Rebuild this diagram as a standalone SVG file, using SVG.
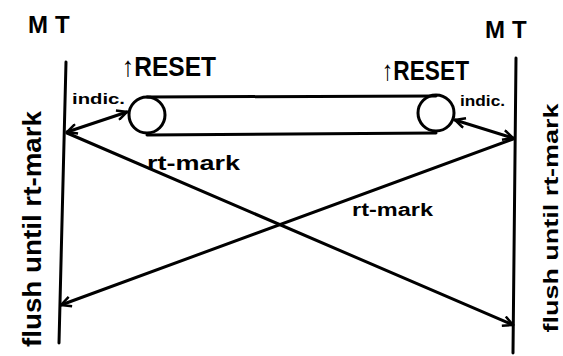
<svg xmlns="http://www.w3.org/2000/svg" width="563" height="356" viewBox="0 0 563 356">
<defs>
<style>
.ln{stroke:#000;stroke-width:3;fill:none;stroke-linecap:round}
.t{font-family:"Liberation Sans",Arial,sans-serif;font-weight:bold;fill:#000}
</style>
<marker id="ah" viewBox="0 0 12 12" refX="11" refY="6" markerWidth="12" markerHeight="12" markerUnits="userSpaceOnUse" orient="auto-start-reverse">
<path d="M1,1 L11,6 L1,11" fill="none" stroke="#000" stroke-width="2.5" stroke-linejoin="miter"/>
</marker>
</defs>
<rect width="563" height="356" fill="#fff"/>
<g id="mt-left">
<line class="ln" x1="66" y1="62" x2="59" y2="343"/>
<text class="t" x="28" y="33" font-size="24" letter-spacing="7">MT</text>
<text class="t" transform="translate(41,229) rotate(-90)" text-anchor="middle" font-size="26" textLength="236" lengthAdjust="spacingAndGlyphs">flush until rt-mark</text>
</g>
<g id="mt-right">
<line class="ln" x1="516" y1="58" x2="513" y2="353"/>
<text class="t" x="485" y="38" font-size="24" letter-spacing="7">MT</text>
<text class="t" transform="translate(558,218) rotate(-90)" text-anchor="middle" font-size="21" textLength="229" lengthAdjust="spacingAndGlyphs">flush until rt-mark</text>
</g>
<g id="tube">
<line class="ln" x1="147" y1="97" x2="436" y2="96"/>
<line class="ln" x1="147" y1="135" x2="436" y2="133"/>
<circle class="ln" cx="147" cy="115" r="18" fill="#fff"/>
<circle class="ln" cx="436" cy="113" r="18" fill="#fff"/>
<text class="t" x="122" y="76" font-size="28" textLength="94" lengthAdjust="spacingAndGlyphs">↑RESET</text>
<text class="t" x="382" y="80" font-size="28" textLength="87" lengthAdjust="spacingAndGlyphs">↑RESET</text>
</g>
<g id="connectors">
<line class="ln" x1="67" y1="132" x2="127" y2="112" marker-start="url(#ah)" marker-end="url(#ah)"/>
<line class="ln" x1="455" y1="120" x2="513" y2="138" marker-start="url(#ah)" marker-end="url(#ah)"/>
<line class="ln" x1="67" y1="133" x2="513" y2="325" marker-end="url(#ah)"/>
<line class="ln" x1="513" y1="139" x2="61" y2="305" marker-end="url(#ah)"/>
<text class="t" x="72" y="104" font-size="14" textLength="53" lengthAdjust="spacingAndGlyphs">indic.</text>
<text class="t" x="460" y="106" font-size="14" textLength="45" lengthAdjust="spacingAndGlyphs">indic.</text>
<text class="t" x="147" y="170" font-size="20" textLength="93" lengthAdjust="spacingAndGlyphs">rt-mark</text>
<text class="t" x="352" y="216" font-size="18" textLength="81" lengthAdjust="spacingAndGlyphs">rt-mark</text>
</g>
</svg>
